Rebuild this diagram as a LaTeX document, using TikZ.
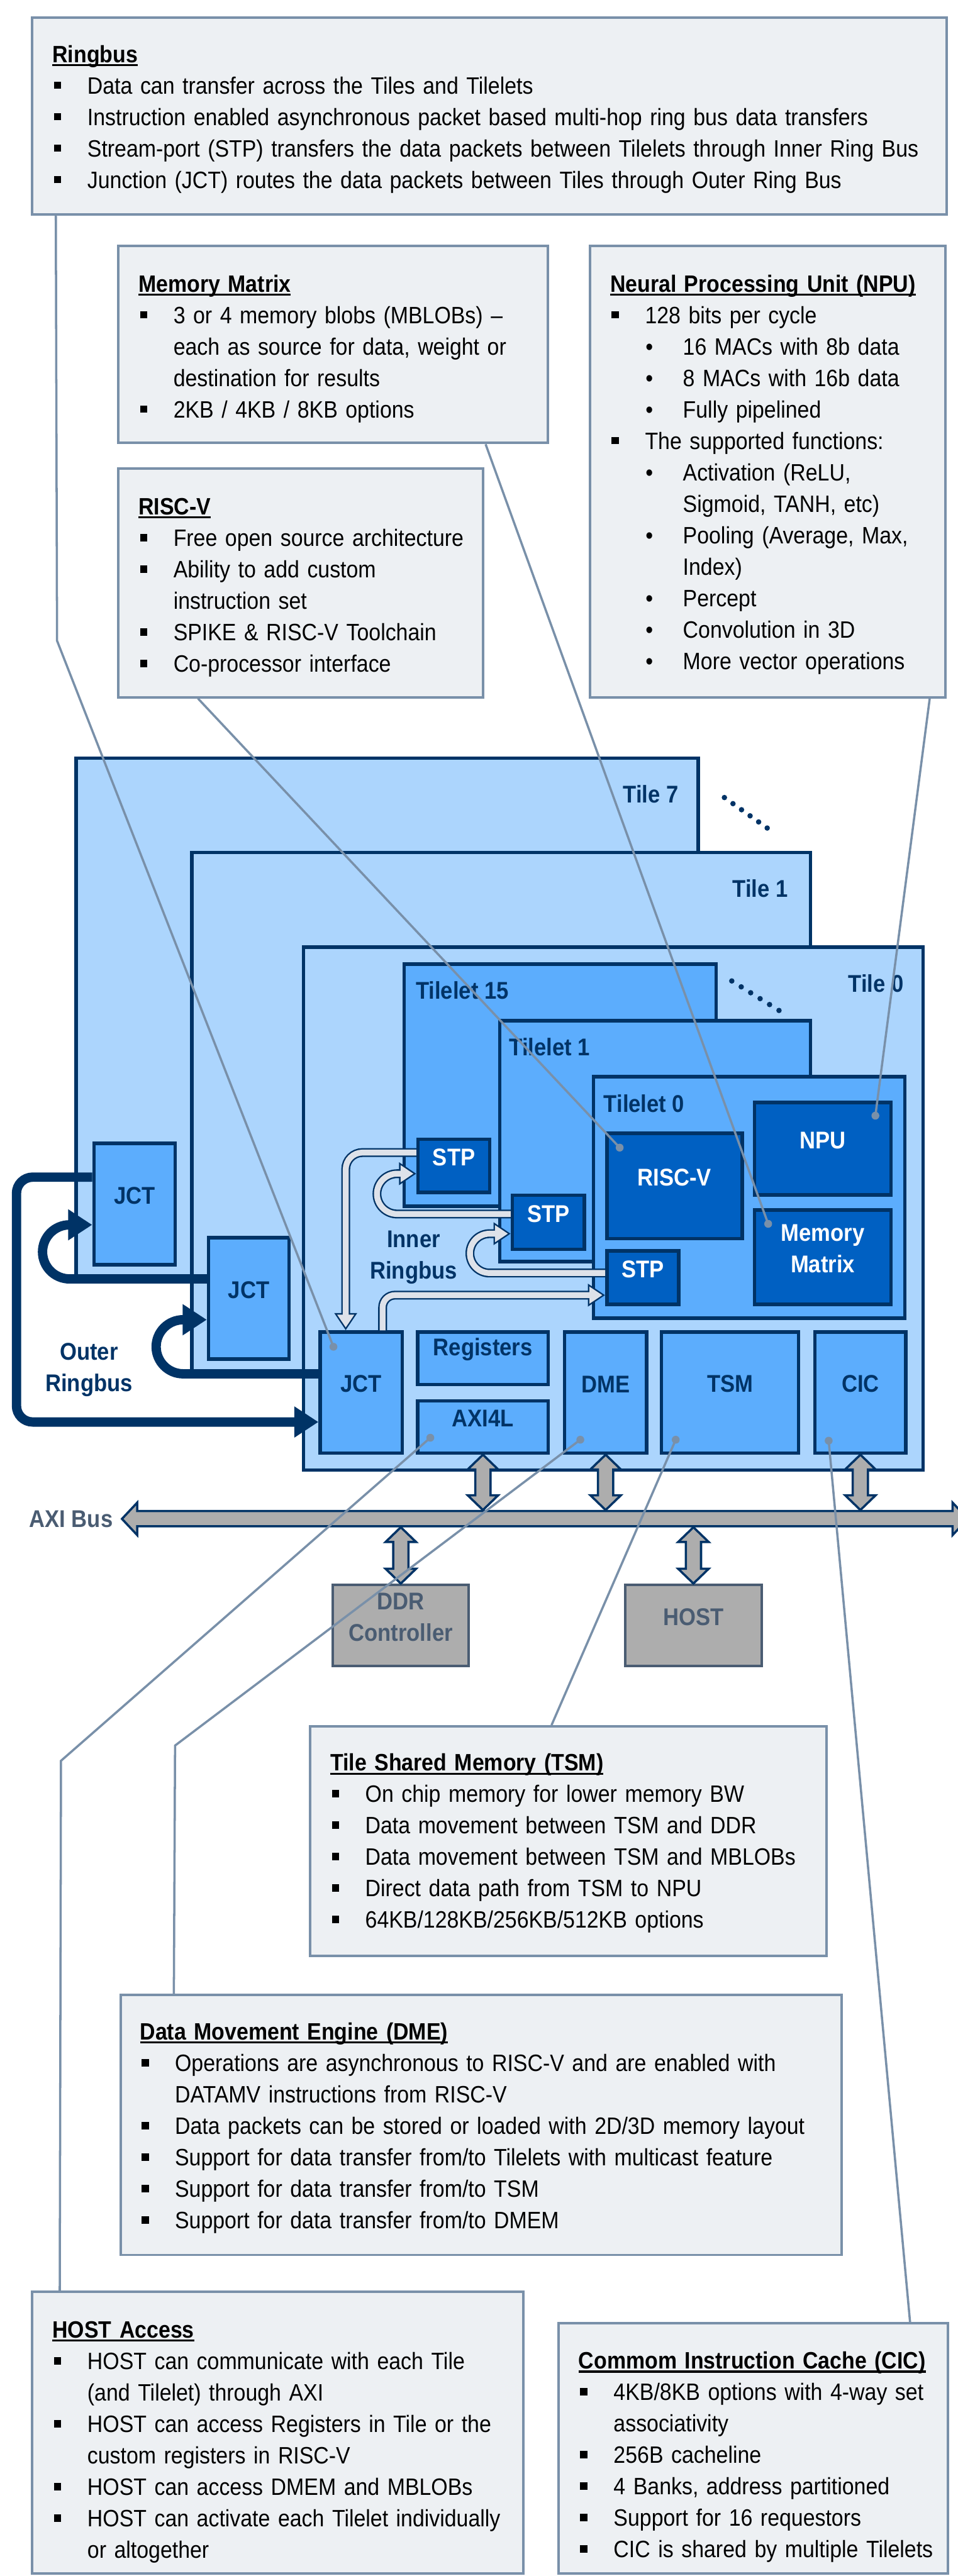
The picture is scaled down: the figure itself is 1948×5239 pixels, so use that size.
\documentclass[tikz,border=0pt]{standalone}
\usepackage{fontspec}
\setmainfont{Liberation Sans}[FakeStretch=0.9]
\usetikzlibrary{arrows.meta,fit,calc}

\definecolor{navy}{HTML}{003366}
\definecolor{tilebg}{HTML}{ACD5FD}
\definecolor{tileletbg}{HTML}{5CADFD}
\definecolor{corebg}{HTML}{0060C2}
\definecolor{notebg}{HTML}{EDF0F3}
\definecolor{noteedge}{HTML}{7990A9}
\definecolor{busgray}{HTML}{ADADAD}
\definecolor{slate}{HTML}{4A5C72}
\definecolor{ringgray}{HTML}{DEE2E9}

\newcommand{\notefont}{\fontsize{13.7}{18.2}\selectfont}
\newcommand{\lblfont}{\fontsize{14}{18.2}\selectfont\bfseries}
% underlined title line of a note box
\newcommand{\ntitle}[1]{\noindent\rule{0pt}{4mm}\setbox0=\hbox{\bfseries #1}\rlap{\rule[-0.75mm]{\wd0}{0.4mm}}\box0\par}
% square and round bullet items
\newcommand{\sqitem}[1]{\hangindent=7.1mm\hangafter=1\noindent\makebox[7.1mm][l]{\hspace{0.3mm}\rule[1mm]{1.5mm}{1.5mm}}#1\par}
\newcommand{\dotitem}[1]{\hangindent=14.8mm\hangafter=1\noindent\hspace*{7.2mm}\makebox[7.6mm][l]{•}#1\par}
% grey double-headed link between a unit and the bus
\newcommand{\vlink}[2]{%
  \path #1 coordinate (vl-a) #2 coordinate (vl-b);
  \filldraw[busbody] let \p1=(vl-a), \p2=(vl-b) in
    (\x1,\y1) -- (\x1+3.1mm,\y1-3mm) -- (\x1+1.55mm,\y1-3mm) -- (\x1+1.55mm,\y2+3mm)
    -- (\x1+3.1mm,\y2+3mm) -- (\x1,\y2) -- (\x1-3.1mm,\y2+3mm) -- (\x1-1.55mm,\y2+3mm)
    -- (\x1-1.55mm,\y1-3mm) -- (\x1-3.1mm,\y1-3mm) -- cycle;}

\begin{document}
\begin{tikzpicture}[x=0.1mm, y=-0.1mm,
  tilebox/.style={draw=navy, line width=0.7mm, fill=tilebg, inner sep=0pt},
  tileletbox/.style={tilebox, fill=tileletbg},
  unitbox/.style={tilebox, fill=tileletbg, text=navy, font=\lblfont, align=center},
  corebox/.style={tilebox, fill=corebg, text=white, font=\lblfont, align=center},
  hostbox/.style={draw=slate, line width=0.5mm, fill=busgray, inner sep=0pt, text=slate, font=\lblfont, align=center},
  notebox/.style={draw=noteedge, line width=0.5mm, fill=notebg, inner sep=0pt},
  notetext/.style={anchor=north west, inner sep=0pt, text width=185mm, align=left, font=\notefont},
  noteline/.style={draw=noteedge, line width=0.45mm},
  tilename/.style={text=navy, font=\lblfont, inner sep=0pt},
  outerring/.style={draw=navy, line width=1.9mm, rounded corners=5.5mm, -{Triangle[length=4.9mm,width=6mm]}},
  innerring/.style={draw=ringgray, line width=1.2mm, shorten >=0.56mm, -{Triangle[length=2.64mm,width=3.3mm]},
    preaction={draw=navy, line width=1.8mm, shorten >=0pt, -{Triangle[length=3.5mm,width=4.4mm]}}},
  busbody/.style={fill=busgray, draw=navy, line width=0.45mm, line join=miter}]

\fill[white] (0,0) rectangle (1948,5239);
\useasboundingbox (0,0) rectangle (1948,5239);

% Tiles
\node[tilebox, fit={(155,1542) (1420,2601)}] (tile7) {};
\node[tilebox, fit={(390,1734) (1648,2794)}] (tile1) {};
\node[tilebox, fit={(617,1926) (1877,2990)}] (tile0) {};
\node[tilename, anchor=east] (tile7name) at (1380,1615) {Tile 7};
\node[tilename, anchor=east] (tile1name) at (1603,1807) {Tile 1};
\node[tilename, anchor=east] (tile0name) at (1838,2000) {Tile 0};
\foreach \i in {0,...,5}
  \fill[navy] (1473+17.4*\i,1622+12.4*\i) circle (0.55mm);

% Tilelets
\node[tileletbox, fit={(822,1961) (1456,2453)}] (tilelet15) {};
\node[tileletbox, fit={(1016,2076) (1648,2566)}] (tilelet1) {};
\node[tileletbox, fit={(1207,2190) (1840,2681)}] (tilelet0) {};
\node[tilename, anchor=west] (tl15name) at (845,2014) {Tilelet 15};
\node[tilename, anchor=west] (tl1name) at (1035,2129) {Tilelet 1};
\node[tilename, anchor=west] (tl0name) at (1227,2244) {Tilelet 0};
\foreach \i in {0,...,5}
  \fill[navy] (1488+19.2*\i,1995+12*\i) circle (0.55mm);

% Units
\node[unitbox, fit={(191,2325) (356,2572)}] (jct7) {JCT};
\node[unitbox, fit={(424,2517) (588,2764)}] (jct1) {JCT};
\node[unitbox, fit={(651,2709) (818,2955)}] (jct0) {JCT};
\node[unitbox, fit={(849,2709) (1115,2816)}] (regs) {Registers};
\node[unitbox, fit={(849,2849) (1115,2955)}] (axil) {AXI4L};
\node[unitbox, fit={(1148,2709) (1315,2955)}] (dme) {DME};
\node[unitbox, fit={(1345,2709) (1624,2955)}] (tsm) {TSM};
\node[unitbox, fit={(1657,2709) (1842,2955)}] (cic) {CIC};
\node[corebox, fit={(850,2317) (996,2425)}] (stp15) {STP};
\node[corebox, fit={(1042,2431) (1188,2541)}] (stp1) {STP};
\node[corebox, fit={(1234,2544) (1380,2653)}] (stp0) {STP};
\node[corebox, fit={(1234,2305) (1509,2519)}] (riscv) {RISC-V};
\node[corebox, fit={(1534,2242) (1812,2430)}] (npu) {NPU};
\node[corebox, fit={(1534,2461) (1812,2653)}] (mmatrix) {Memory\\Matrix};

% Outer ring bus
\draw[outerring] ([yshift=3.8mm]jct0.west) -- ++(-330,0) |- ([yshift=-4.35mm]jct1.west);
\draw[outerring] ([yshift=3.95mm]jct1.west) -- ++(-334,0) |- ([yshift=-4.25mm]jct7.west);
\draw[outerring, rounded corners=3.3mm] ([yshift=5.45mm]jct7.west) -- ++(-154,0) |- ([yshift=-6mm]jct0.west);
\node[tilename, align=center] (outerlbl) at (181,2786) {Outer\\Ringbus};

% Inner ring bus
\draw[innerring, rounded corners=3.4mm] ([yshift=2.7mm]stp15.west) -| ([xshift=-3.15mm]jct0.north);
\draw[innerring, rounded corners=4.1mm] ([yshift=1.7mm]stp1.west) -- ++(-272,0) |- ([yshift=-1.6mm]stp15.west);
\draw[innerring, rounded corners=4mm] ([yshift=0.95mm]stp0.west) -- ++(-275,0) |- ([yshift=-2.3mm]stp1.west);
\draw[innerring, rounded corners=2.5mm] ([xshift=4.35mm]jct0.north) |- ([yshift=-3.55mm]stp0.west);
\node[tilename, align=center] (innerlbl) at (841,2557) {Inner\\Ringbus};

% AXI bus
\filldraw[busbody] (248,3089) -- (279,3056) -- (279,3073) -- (1937,3073) -- (1937,3056) -- (1968,3089)
  -- (1937,3122) -- (1937,3104) -- (279,3104) -- (279,3122) -- cycle;
\coordinate (bustop) at (0,3071);
\coordinate (busbot) at (0,3106);
\node[anchor=west, text=slate, font=\lblfont, inner sep=0pt] (axilbl) at (59,3090) {AXI Bus};
\node[hostbox, fit={(677,3223) (953,3388)}] (ddr) {DDR\\Controller};
\node[hostbox, fit={(1271,3223) (1549,3388)}] (host) {HOST};
\vlink{(axil.south)}{(axil.south |- bustop)}
\vlink{(dme.south)}{(dme.south |- bustop)}
\vlink{(cic.south)}{(cic.south |- bustop)}
\vlink{(ddr.north |- busbot)}{(ddr.north)}
\vlink{(host.north |- busbot)}{(host.north)}

% Note boxes
\node[notebox, fit={(65,36) (1925,436)}] (ringbus) {};
\node[notetext] (ringbustext) at (106,86) {\ntitle{Ringbus}
  \sqitem{Data can transfer across the Tiles and Tilelets}
  \sqitem{Instruction enabled asynchronous packet based multi-hop ring bus data transfers}
  \sqitem{Stream-port (STP) transfers the data packets between Tilelets through Inner Ring Bus}
  \sqitem{Junction (JCT) routes the data packets between Tiles through Outer Ring Bus}};

\node[notebox, fit={(241,500) (1114,901)}] (mmnote) {};
\node[notetext] (mmtext) at (281,553) {\ntitle{Memory Matrix}
  \sqitem{3 or 4 memory blobs (MBLOBs) --\newline each as source for data, weight or\newline destination for results}
  \sqitem{2KB / 4KB / 8KB options}};

\node[notebox, fit={(1200,500) (1922,1418)}] (npunote) {};
\node[notetext] (nputext) at (1240,553) {\ntitle{Neural Processing Unit (NPU)}
  \sqitem{128 bits per cycle}
  \dotitem{16 MACs with 8b data}
  \dotitem{8 MACs with 16b data}
  \dotitem{Fully pipelined}
  \sqitem{The supported functions:}
  \dotitem{Activation (ReLU,\newline Sigmoid, TANH, etc)}
  \dotitem{Pooling (Average, Max,\newline Index)}
  \dotitem{Percept}
  \dotitem{Convolution in 3D}
  \dotitem{More vector operations}};

\node[notebox, fit={(241,953) (982,1418)}] (rvnote) {};
\node[notetext] (rvtext) at (281,1006) {\ntitle{RISC-V}
  \sqitem{Free open source architecture}
  \sqitem{Ability to add custom\newline instruction set}
  \sqitem{SPIKE \& RISC-V Toolchain}
  \sqitem{Co-processor interface}};

\node[notebox, fit={(631,3511) (1681,3978)}] (tsmnote) {};
\node[notetext] (tsmtext) at (671,3561) {\ntitle{Tile Shared Memory (TSM)}
  \sqitem{On chip memory for lower memory BW}
  \sqitem{Data movement between TSM and DDR}
  \sqitem{Data movement between TSM and MBLOBs}
  \sqitem{Direct data path from TSM to NPU}
  \sqitem{64KB/128KB/256KB/512KB options}};

\node[notebox, fit={(245,4057) (1711,4586)}] (dmenote) {};
\node[notetext] (dmetext) at (284,4108) {\ntitle{Data Movement Engine (DME)}
  \sqitem{Operations are asynchronous to RISC-V and are enabled with\newline DATAMV instructions from RISC-V}
  \sqitem{Data packets can be stored or loaded with 2D/3D memory layout}
  \sqitem{Support for data transfer from/to Tilelets with multicast feature}
  \sqitem{Support for data transfer from/to TSM}
  \sqitem{Support for data transfer from/to DMEM}};

\node[notebox, fit={(65,4661) (1064,5234)}] (hostnote) {};
\node[notetext] (hosttext) at (106,4714) {\ntitle{HOST Access}
  \sqitem{HOST can communicate with each Tile\newline (and Tilelet) through AXI}
  \sqitem{HOST can access Registers in Tile or the\newline custom registers in RISC-V}
  \sqitem{HOST can access DMEM and MBLOBs}
  \sqitem{HOST can activate each Tilelet individually\newline or altogether}};

\node[notebox, fit={(1136,4725) (1928,5234)}] (cicnote) {};
\node[notetext] (cictext) at (1176,4777) {\ntitle{Commom Instruction Cache (CIC)}
  \sqitem{4KB/8KB options with 4-way set\newline associativity}
  \sqitem{256B cacheline}
  \sqitem{4 Banks, address partitioned}
  \sqitem{Support for 16 requestors}
  \sqitem{CIC is shared by multiple Tilelets}};

% Pointer lines
\coordinate (jct0pin) at (678,2739);
\coordinate (rvpin) at (1260,2334);
\coordinate (mmpin) at (1562,2489);
\coordinate (npupin) at (1780,2269);
\coordinate (axipin) at (875,2924);
\coordinate (dmepin) at (1180,2928);
\coordinate (tsmpin) at (1374,2928);
\coordinate (cicpin) at (1685,2930);
\coordinate (ringbend) at (116,1303);
\coordinate (hostbend) at (124,3581);
\coordinate (dmebend) at (356,3550);

\draw[noteline] ([xshift=5.1mm]ringbus.south west) -- (ringbend) -- (jct0pin);
\draw[noteline] ([xshift=16.4mm]rvnote.south west) -- (rvpin);
\draw[noteline] ([xshift=74.9mm]mmnote.south west) -- (mmpin);
\draw[noteline] ([xshift=69.3mm]npunote.south west) -- (npupin);
\draw[noteline] (axipin) -- (hostbend) -- ([xshift=5.9mm]hostnote.north west);
\draw[noteline] (dmepin) -- (dmebend) -- ([xshift=11.1mm]dmenote.north west);
\draw[noteline] (tsmpin) -- ([xshift=49.3mm]tsmnote.north west);
\draw[noteline] (cicpin) -- ([xshift=71.7mm]cicnote.north west);
\foreach \p in {jct0pin,rvpin,mmpin,npupin,axipin,dmepin,tsmpin,cicpin}
  \fill[noteedge] (\p) circle (0.8mm);
\end{tikzpicture}
\end{document}
